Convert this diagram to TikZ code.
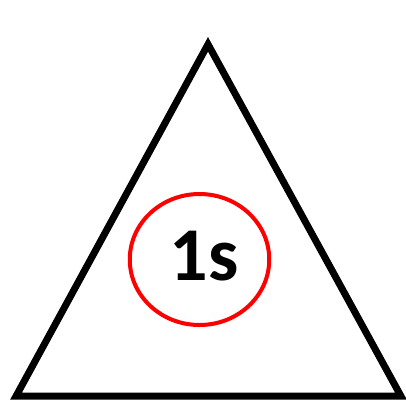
\documentclass[tikz,border=0pt]{standalone}
\usepackage{fontspec}
\setmainfont{Carlito}
\usetikzlibrary{shapes, positioning}

\begin{document}
\begin{tikzpicture}[
    x=1pt, y=-1pt,
    edge/.style={draw, line width=7pt, miter limit=10},
    orbit/.style={ellipse, draw=red, line width=4pt, inner sep=0pt,
                  minimum width=139.5pt, minimum height=131pt},
    label/.style={font=\fontsize{76}{80}\selectfont\bfseries, inner sep=0pt}
]
    \clip (0,0) rectangle (406,400);
    \useasboundingbox (0,0) rectangle (406,400);

    \coordinate (top) at (208,44.3);
    \coordinate (bl) at (16,396.2);
    \coordinate (br) at (401,396.2);
    \draw[edge] (top) -- (bl) -- (br) -- cycle;

    \node[orbit] (shell) at (199.5,259.5) {};
    \node[label] (name) at (204,256) {1s};
\end{tikzpicture}
\end{document}
